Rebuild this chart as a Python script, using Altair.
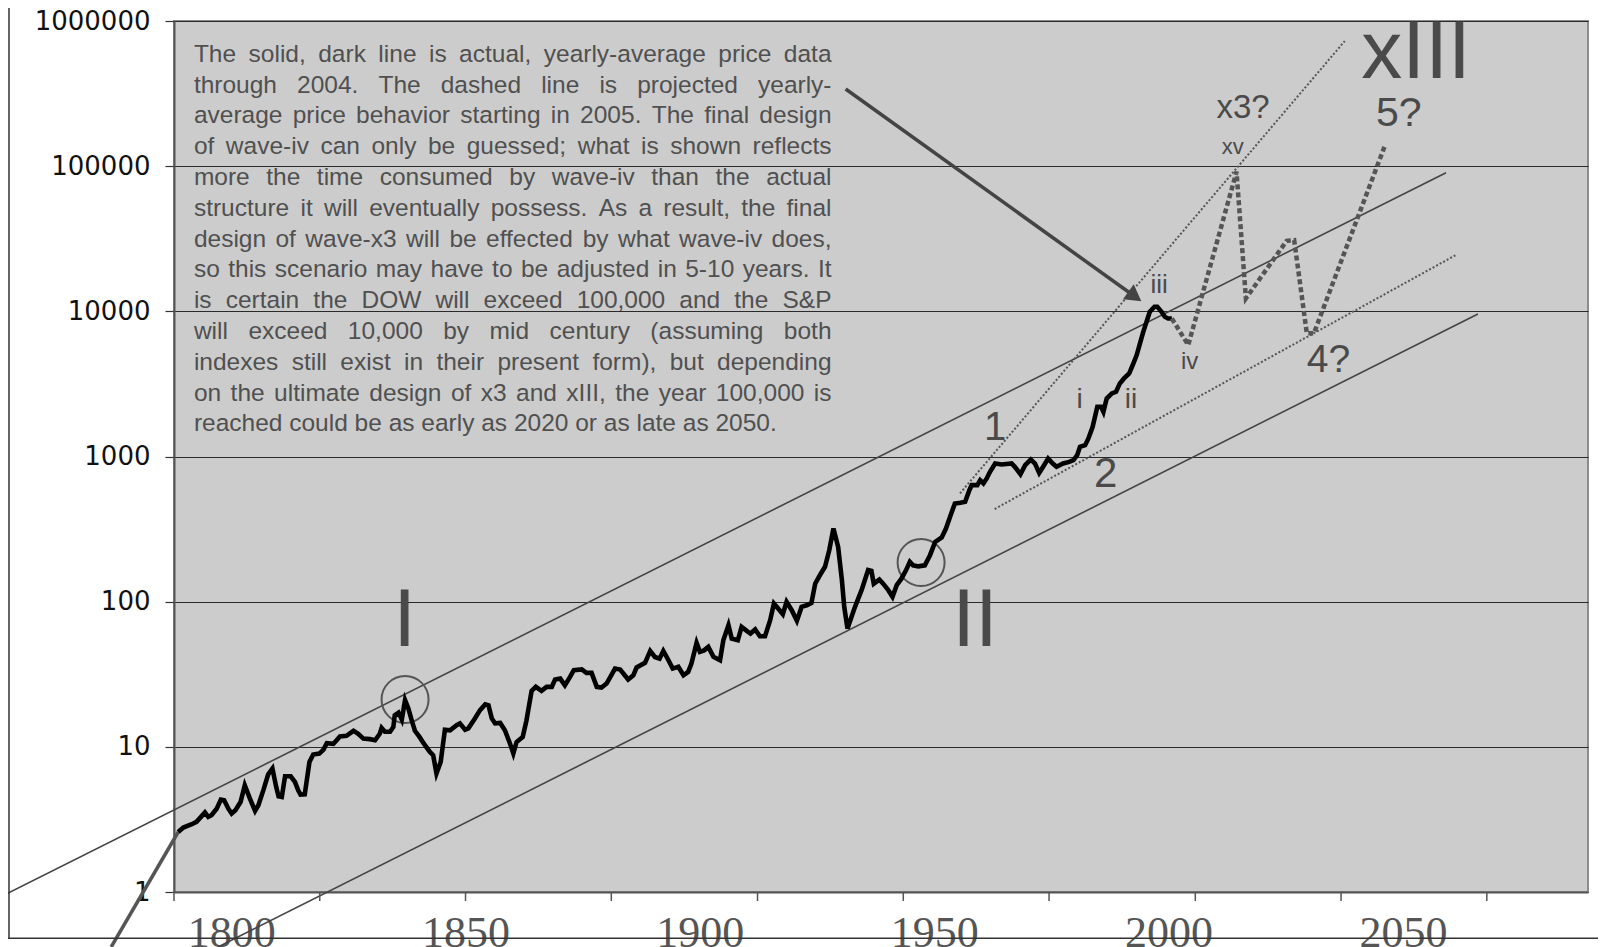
import altair as alt
import pandas as pd

# ---------------- data ----------------
actual_years = [
    1788.7, 1789.8, 1791.6, 1792.6, 1793.7, 1794.4, 1795.1, 1795.8, 1796.9, 1797.8,
    1798.5, 1799.4, 1800.1, 1800.9, 1802.0, 1802.9, 1804.0, 1805.1, 1805.8, 1806.9,
    1807.9, 1808.8, 1809.6, 1810.1, 1810.8, 1811.5, 1812.7, 1813.6, 1814.3, 1814.8,
    1815.7, 1816.7, 1817.5, 1818.8, 1819.7, 1820.4, 1821.8, 1822.5, 1823.2, 1824.6,
    1826.1, 1827.1, 1828.2, 1829.6, 1830.7, 1831.7, 1832.1, 1832.8, 1833.9, 1834.6,
    1834.9, 1835.7, 1836.4, 1837.1, 1837.8, 1838.5, 1839.2, 1840.1, 1841.3, 1842.4,
    1843.1, 1843.8, 1844.7, 1845.6, 1846.7, 1848.1, 1848.8, 1849.9, 1850.6, 1852.0,
    1853.1, 1854.2, 1854.9, 1855.6, 1856.3, 1857.4, 1858.4, 1859.5, 1860.2, 1860.9,
    1862.2, 1863.0, 1864.1, 1865.0, 1866.2, 1867.3, 1868.4, 1869.1, 1870.2, 1871.2,
    1872.3, 1873.1, 1874.8, 1875.8, 1876.9, 1878.0, 1879.0, 1880.1, 1881.9, 1883.0,
    1884.7, 1885.8, 1886.5, 1888.3, 1889.4, 1890.4, 1891.4, 1892.2, 1893.3, 1894.2,
    1895.4, 1896.5, 1897.5, 1898.2, 1899.3, 1900.0, 1900.9, 1901.8, 1902.9, 1904.3,
    1905.0, 1906.1, 1906.8, 1908.1, 1908.9, 1910.0, 1910.8, 1911.8, 1912.8, 1913.9,
    1915.0, 1915.8, 1916.7, 1917.7, 1918.5, 1919.6, 1920.7, 1921.7, 1922.8, 1923.8,
    1924.6, 1925.6, 1926.7, 1927.6, 1928.5, 1929.5, 1930.3, 1930.8, 1931.5, 1933.1,
    1934.5, 1935.9, 1936.6, 1937.1, 1938.3, 1939.1, 1940.2, 1941.1, 1942.0, 1943.0,
    1944.0, 1944.8, 1945.5, 1946.6, 1948.0, 1949.1, 1950.2, 1951.6, 1952.5, 1953.5,
    1954.4, 1955.6, 1956.6, 1957.5, 1958.0, 1959.2, 1959.8, 1960.5, 1961.2, 1961.9,
    1963.0, 1964.4, 1966.5, 1967.2, 1968.4, 1969.4, 1970.6, 1971.5, 1972.4, 1973.3,
    1974.3, 1975.3, 1976.1, 1977.5, 1978.8, 1979.7, 1980.5, 1981.1, 1982.2, 1982.9,
    1983.8, 1984.8, 1985.6, 1986.1, 1986.8, 1987.9, 1988.8, 1989.6, 1990.5, 1991.6,
    1992.5, 1993.2, 1993.9, 1994.6, 1995.3, 1996.0, 1997.0, 1997.6, 1998.5, 1999.2,
    1999.9, 2000.7,
]
actual_values = [
    2.59, 2.78, 2.93, 3.04, 3.33, 3.53, 3.29, 3.38, 3.75, 4.33,
    4.28, 3.75, 3.47, 3.66, 4.17, 5.43, 4.40, 3.62, 3.96, 5.07,
    6.47, 7.08, 5.30, 4.57, 4.52, 6.27, 6.27, 5.73, 5.02, 4.69,
    4.71, 7.87, 8.85, 8.98, 9.57, 10.6, 10.5, 11.1, 11.8, 11.9,
    12.9, 12.3, 11.4, 11.3, 11.1, 12.3, 13.5, 12.7, 12.7, 13.7,
    16.5, 17.2, 15.4, 21.0, 18.4, 15.3, 12.9, 11.8, 10.3, 9.23,
    8.75, 6.55, 7.87, 13.1, 13.0, 14.1, 14.5, 13.1, 13.4, 15.7,
    17.9, 19.6, 19.3, 15.7, 14.5, 14.6, 13.0, 10.5, 9.0, 10.8,
    11.7, 15.2, 24.3, 25.9, 24.3, 25.9, 25.9, 29.1, 29.5, 26.5,
    30.3, 33.7, 34.1, 32.3, 32.3, 25.9, 25.6, 27.3, 34.6, 34.1,
    29.1, 31.1, 35.2, 37.9, 45.8, 41.6, 40.5, 45.8, 39.5, 34.6,
    35.6, 31.1, 32.8, 37.5, 52.0, 45.1, 46.2, 48.8, 41.7, 39.5,
    54.2, 68.8, 55.7, 54.2, 67.0, 62.9, 60.3, 64.3, 57.8, 57.8,
    74.5, 97.0, 89.7, 82.0, 99.8, 87.3, 73.8, 92.0, 94.4, 98.0,
    133, 152, 174, 226, 319, 238, 141, 92, 65.3, 92.1,
    120, 165, 163, 133, 142, 133, 120, 108, 130, 144,
    165, 188, 178, 175, 178, 209, 258, 277, 319, 394,
    474, 480, 487, 586, 635, 635, 687, 652, 706, 784,
    895, 881, 895, 849, 755, 872, 953, 895, 771, 857,
    968, 895, 849, 895, 918, 944, 1021, 1166, 1197, 1331,
    1601, 2198, 2198, 2030, 2510, 2719, 2792, 3187, 3450, 3735,
    4380, 4993, 6008, 7228, 8472, 9931, 10747, 10747, 9931, 9164,
    8929, 8929,
]
proj_years = [2000.7, 2004.2, 2014.5, 2016.5, 2025.2, 2026.8, 2029.5, 2031.0, 2046.2]
proj_values = [8929, 5850, 91600, 12280, 30600, 30950, 7050, 7050, 139600]

x_label_years = [1800, 1850, 1900, 1950, 2000, 2050]
x_tick_years = [1787.8, 1818.9, 1850.0, 1881.1, 1912.3, 1943.4, 1974.5, 2005.7, 2036.8, 2067.9]
y_tick_values = [1, 10, 100, 1000, 10000, 100000, 1000000]

# drawn trend lines (start, end) in year / price units
channel_start_years = [1750.7, 1797.2]
channel_end_years = [2059.2, 2066.0]
channel_start_values = [0.924, 0.418]
channel_end_values = [90100, 9585]
dotted_start_years = [1955.5, 1962.9]
dotted_end_years = [2037.6, 2061.3]
dotted_start_values = [557.6, 434.8]
dotted_end_values = [727800, 24430]
lead_in_years = [1774.4, 1788.7]
lead_in_values = [0.418, 2.59]
arrow_years = [1931.1, 1992.8]
arrow_values = [340100, 12650]
circle_years = [1837.1, 1947.2]
circle_values = [21.2, 186.1]

wave_labels = ["I", "II", "xIII", "x3?", "5?", "xv", "iii", "iv", "i", "ii", "1", "2", "4?"]
wave_years = [1837.0, 1958.7, 2052.8, 2015.9, 2049.1, 2013.7, 1998.0, 2004.5, 1981.0, 1992.0, 1963.0, 1986.6, 2034.1]
wave_values = [49.5, 49.5, 402700, 213800, 189100, 121300, 13300, 3987, 2148, 2148, 1299, 611.7, 3838]

note_lines = [
    "The solid, dark line is actual, yearly-average price data",
    "through 2004. The dashed line is projected yearly-",
    "average price behavior starting in 2005. The final design",
    "of wave-iv can only be guessed; what is shown reflects",
    "more the time consumed by wave-iv than the actual",
    "structure it will eventually possess. As a result, the final",
    "design of wave-x3 will be effected by what wave-iv does,",
    "so this scenario may have to be adjusted in 5-10 years. It",
    "is certain the DOW will exceed 100,000 and the S&P",
    "will exceed 10,000 by mid century (assuming both",
    "indexes still exist in their present form), but depending",
    "on the ultimate design of x3 and xIII, the year 100,000 is",
    "reached could be as early as 2020 or as late as 2050.",
]

# ---------------- layout / style ----------------
W, H = 1414, 871
X0, X1 = 1787.80, 2089.49
wave_sizes = [82, 82, 82, 33, 41, 22, 26, 24, 28, 28, 40, 42, 39]
NOTE_SIZE = 24.5
NOTE_LEFT, NOTE_RIGHT = 19.9, 657.5     # view px
NOTE_BASE0, NOTE_LEAD = 40.7, 30.8      # view px
GREY = "#555555"
NARROW = "'Liberation Sans Narrow', 'Liberation Sans', sans-serif"

# Arial / Liberation Sans advance widths (1/1000 em)
AW = dict(zip("abcdefghijklmnopqrstuvwxyz",
              [556, 556, 500, 556, 556, 278, 556, 556, 222, 222, 500, 222, 833,
               556, 556, 556, 556, 333, 500, 278, 556, 500, 722, 500, 500, 500]))
AW.update(dict(zip("ABCDEFGHIJKLMNOPQRSTUVWXYZ",
                   [667, 667, 722, 722, 667, 611, 778, 722, 278, 500, 667, 556, 833,
                    722, 778, 667, 778, 722, 667, 611, 722, 667, 944, 667, 667, 611])))
AW.update({d: 556 for d in "0123456789"})
AW.update({" ": 278, ",": 278, ".": 278, "-": 333, ";": 278, ":": 278,
           "(": 333, ")": 333, "&": 667, "?": 556, "'": 191})


def tw(s):
    return sum(AW.get(c, 556) for c in s) * NOTE_SIZE / 1000.0


def vx_to_year(vx):
    return X0 + vx / W * (X1 - X0)


def vy_to_val(vy):
    return 10 ** (6 * (1 - vy / H))


words = []
for li, line in enumerate(note_lines):
    ws = line.split(" ")
    widths = [tw(w) for w in ws]
    last = li == len(note_lines) - 1
    gap = tw(" ") if last else (NOTE_RIGHT - NOTE_LEFT - sum(widths)) / (len(ws) - 1)
    x = NOTE_LEFT
    base = NOTE_BASE0 + li * NOTE_LEAD
    for w, wd in zip(ws, widths):
        words.append({"year": vx_to_year(x), "val": vy_to_val(base), "word": w})
        x += wd + gap
words_df = pd.DataFrame(words)

xs = alt.Scale(domain=[X0, X1], nice=False, zero=False)
ys = alt.Scale(type="log", domain=[1, 1000000], nice=False)
x_axis = alt.Axis(values=x_label_years, format="d", title=None, grid=False, ticks=False, tickSize=0,
                  domainColor=GREY, domainWidth=2, labelFont="Liberation Serif", labelFontSize=44,
                  labelColor=GREY, labelPadding=19, labelFlush=False, labelOverlap=False)
y_axis = alt.Axis(values=y_tick_values, format="d", title=None, grid=True, gridColor="#2a2a2a",
                  gridWidth=1.2, tickSize=9, tickColor="#333333", tickWidth=1.2, domainColor=GREY,
                  domainWidth=2, labelFont="DejaVu Sans", labelFontSize=26, labelColor="#111111",
                  labelPadding=15, labelOverlap=False)


def X(f="year"):
    return alt.X(f"{f}:Q", scale=xs, axis=x_axis)


def Y(f="val"):
    return alt.Y(f"{f}:Q", scale=ys, axis=y_axis)


actual_df = pd.DataFrame({"year": actual_years, "val": actual_values})
proj_df = pd.DataFrame({"year": proj_years, "val": proj_values})
chan_df = pd.DataFrame({"year": channel_start_years, "year2": channel_end_years,
                        "val": channel_start_values, "val2": channel_end_values})
dot_df = pd.DataFrame({"year": dotted_start_years, "year2": dotted_end_years,
                       "val": dotted_start_values, "val2": dotted_end_values})
lead_df = pd.DataFrame({"year": [lead_in_years[0]], "year2": [lead_in_years[1]],
                        "val": [lead_in_values[0]], "val2": [lead_in_values[1]]})
arrow_df = pd.DataFrame({"year": [arrow_years[0]], "year2": [arrow_years[1]],
                         "val": [arrow_values[0]], "val2": [arrow_values[1]]})
head_df = pd.DataFrame({"year": [arrow_years[1]], "val": [arrow_values[1]]})
circ_df = pd.DataFrame({"year": circle_years, "val": circle_values})
wave_df = pd.DataFrame({"year": wave_years, "val": wave_values, "label": wave_labels, "fs": wave_sizes})
tick_df = pd.DataFrame({"year": x_tick_years})
one = pd.DataFrame({"a": [0]})

channels = alt.Chart(chan_df).mark_rule(color="#444444", strokeWidth=1.6).encode(
    x=X(), x2="year2:Q", y=Y(), y2="val2:Q")
dotted = alt.Chart(dot_df).mark_rule(color=GREY, strokeWidth=2, strokeDash=[2, 2]).encode(
    x=X(), x2="year2:Q", y=Y(), y2="val2:Q")
lead = alt.Chart(lead_df).mark_rule(color=GREY, strokeWidth=3.5).encode(
    x=X(), x2="year2:Q", y=Y(), y2="val2:Q")
circles = alt.Chart(circ_df).mark_point(shape="circle", filled=False, size=2209, strokeWidth=2,
                                        color=GREY, opacity=1).encode(x=X(), y=Y())
actual = alt.Chart(actual_df).mark_line(color="black", strokeWidth=4.6, strokeJoin="miter",
                                        strokeMiterLimit=4).encode(x=X(), y=Y())
proj = alt.Chart(proj_df).mark_line(color=GREY, strokeWidth=4.5, strokeDash=[5, 3]).encode(x=X(), y=Y())
arrow = alt.Chart(arrow_df).mark_rule(color="#444444", strokeWidth=3.5).encode(
    x=X(), x2="year2:Q", y=Y(), y2="val2:Q")
head = alt.Chart(head_df).mark_point(shape="triangle-right", filled=True, size=340, angle=35.6,
                                     color="#444444", opacity=1).encode(x=X(), y=Y())
waves = alt.Chart(wave_df).mark_text(align="center", baseline="alphabetic", font=NARROW,
                                     color="#4a4a4a").encode(
    x=X(), y=Y(), text="label:N", size=alt.Size("fs:Q", scale=None, legend=None))
note = alt.Chart(words_df).mark_text(align="left", baseline="alphabetic", font="Liberation Sans",
                                     fontSize=NOTE_SIZE, color="#505050").encode(
    x=X(), y=Y(), text="word:N")
ticks = alt.Chart(tick_df).mark_rule(color=GREY, strokeWidth=1.5).encode(
    x=X(), y=alt.value(H), y2=alt.value(H + 9))
frame_left = alt.Chart(one).mark_rule(color="#333333", strokeWidth=1.5).encode(
    x=alt.value(-165), y=alt.value(-13), y2=alt.value(917))
frame_bottom = alt.Chart(one).mark_rule(color="#333333", strokeWidth=1.5).encode(
    x=alt.value(-166), x2=alt.value(1424), y=alt.value(917.3))

chart = alt.layer(
    channels, dotted, circles, note, lead, actual, proj, arrow, head, waves, ticks, frame_left, frame_bottom
).properties(
    width=W, height=H, autosize=alt.AutoSizeParams(type="none"),
    padding={"left": 166, "top": 13, "right": 10, "bottom": 55},
    background="white",
).configure_view(fill="#cccccc", stroke="#8c8c8c", strokeWidth=2)

chart.save("out.html", embed_options={"renderer": "svg", "actions": False})
